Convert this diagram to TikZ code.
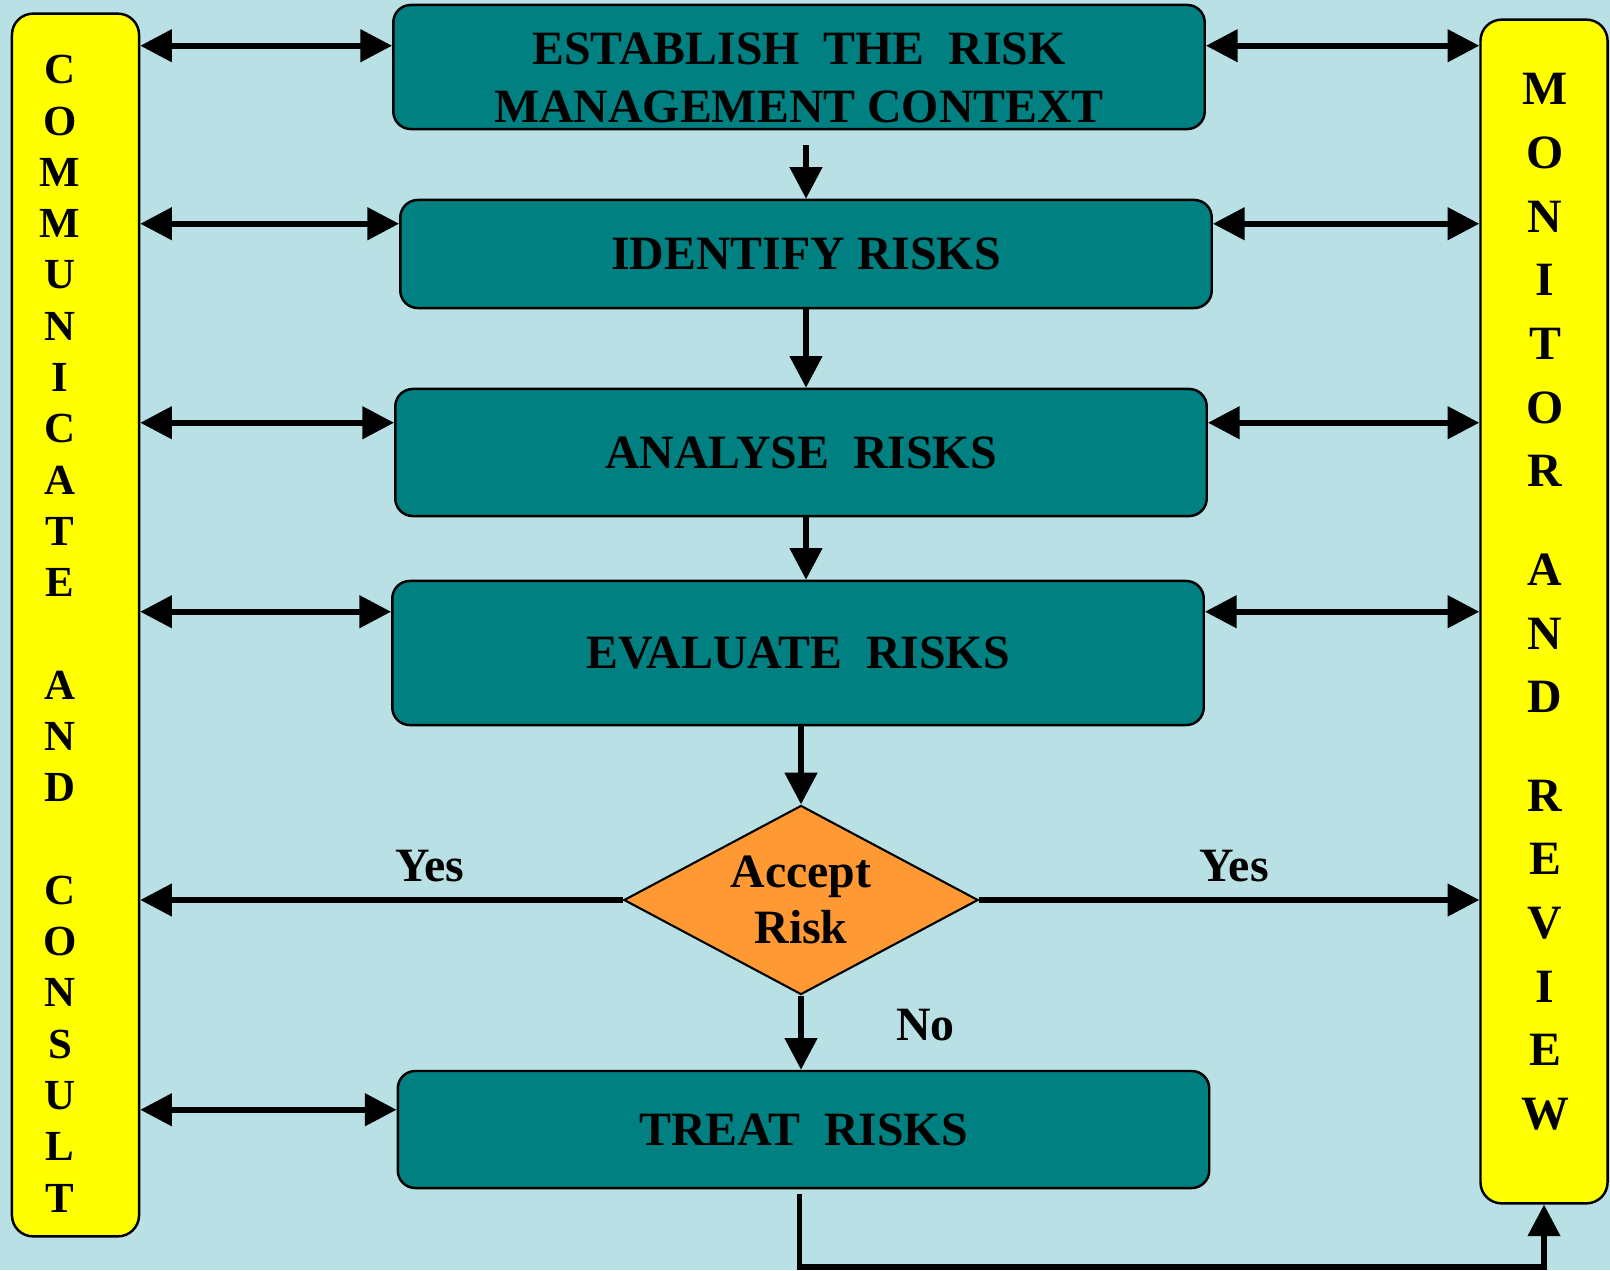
\documentclass[tikz,border=0pt]{standalone}
\usepackage{fontspec}
\setmainfont{Liberation Serif}
\usetikzlibrary{arrows.meta,shapes.geometric,positioning,calc}
\definecolor{paleblue}{RGB}{185,224,228}
\definecolor{tealbox}{RGB}{0,128,128}
\definecolor{barfill}{RGB}{255,255,0}
\definecolor{orangebox}{RGB}{255,153,51}
\tikzset{
    stage/.style={draw, line width=0.7pt, fill=tealbox, rounded corners=5pt, minimum width=8.11cm, inner sep=0pt, align=center, font=\fontsize{13.6}{16.4}\selectfont\bfseries},
    sidebar/.style={draw, line width=0.7pt, fill=barfill, rounded corners=6pt, minimum width=1.27cm, inner sep=0pt},
    decision/.style={diamond, draw, line width=0.6pt, fill=orangebox, minimum width=3.54cm, minimum height=1.89cm, aspect=1.87, inner sep=0pt, align=center, font=\fontsize{13.6}{16}\selectfont\bfseries},
    letter/.style={inner sep=0pt, font=\fontsize{12.2}{14}\selectfont\bfseries},
    bigletter/.style={inner sep=0pt, font=\fontsize{13.6}{16}\selectfont\bfseries},
    answer/.style={font=\fontsize{13.6}{16}\selectfont\bfseries},
    flow/.style={-{Triangle[length=9pt, width=9pt]}, line width=1.6pt},
    link/.style={{Triangle[length=9pt, width=9pt]}-{Triangle[length=9pt, width=9pt]}, line width=1.6pt}
}
\begin{document}
\begin{tikzpicture}[x=0.01cm, y=-0.01cm]
    \fill[paleblue] (0,0) rectangle (1610,1270);
    \useasboundingbox (0,0) rectangle (1610,1270);

    % the two side bars
    \node[sidebar, minimum height=12.22cm] (talk) at (75.5,625) {};
    \node[sidebar, minimum height=11.83cm] (watch) at (1544,611.5) {};

    \foreach \c [count=\i from 0] in {C,O,M,M,U,N,I,C,A,T,E,{},A,N,D,{},C,O,N,S,U,L,T}
        \node[letter] (talk-\i) at (60,70+51.27*\i) {\c};
    \foreach \c/\y [count=\i] in {M/89,O/153,N/217,I/280,T/344,O/408,R/471,A/570,N/634,D/697,R/796,E/859,V/923,I/987,E/1050,W/1114}
        \node[bigletter] (watch-\i) at (1545,\y) {\c};

    % process steps
    \node[stage, minimum height=1.24cm] (ctx) at (799,67) {\rule{0pt}{0.53cm}ESTABLISH\ \ THE\ \ RISK\\MANAGEMENT CONTEXT};
    \node[stage, minimum height=1.08cm] (idn) at (806,254) {IDENTIFY RISKS};
    \node[stage, minimum height=1.27cm] (ana) at (801,452.5) {ANALYSE\ \ RISKS};
    \node[stage, minimum height=1.44cm] (eva) at (798,653) {EVALUATE\ \ RISKS};
    \node[decision] (acc) at (801,900) {Accept\\Risk};
    \node[stage, minimum height=1.17cm] (trt) at (803.5,1129.5) {TREAT\ \ RISKS};

    % main flow
    \draw[flow] ($(idn.north |- ctx.south)+(0,15)$) -- (idn.north);
    \draw[flow] (idn.south) -- (idn.south |- ana.north);
    \draw[flow] (idn.south |- ana.south) -- (idn.south |- eva.north);
    \draw[flow] (acc.north |- eva.south) -- (acc.north);
    \draw[flow] (acc.south) -- node[answer, pos=0.4, right=23pt] {No} (acc.south |- trt.north);
    \draw[flow] (acc.west) -- node[answer, pos=0.4, above=1pt] {Yes} (talk.east |- acc.west);
    \draw[flow] (acc.east) -- node[answer, pos=0.51, above=1pt] {Yes} (watch.west |- acc.east);
    \draw[flow] ($(trt.south)+(-4,5)$) -- ++(0,73) -| (watch.south);

    % links to the side bars
    \foreach \b/\d in {ctx/42,idn/25,ana/35,eva/32,trt/40} {
        \coordinate (\b-l) at ($(\b.north west)+(0,\d)$);
        \draw[link] (talk.east |- \b-l) -- (\b-l);
    }
    \foreach \b/\d in {ctx/42,idn/25,ana/35,eva/32} {
        \coordinate (\b-r) at ($(\b.north east)+(0,\d)$);
        \draw[link] (\b-r) -- (watch.west |- \b-r);
    }
\end{tikzpicture}
\end{document}
